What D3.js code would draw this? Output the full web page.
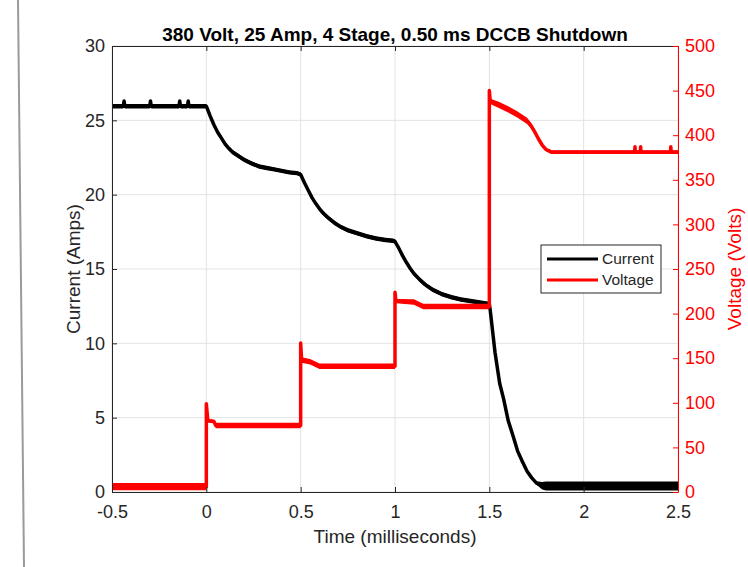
<!DOCTYPE html>
<html>
<head>
<meta charset="utf-8">
<script src="https://cdn.jsdelivr.net/npm/d3@7"></script>
<style>
  html, body { margin: 0; padding: 0; background: #fff; }
  svg { display: block; font-family: "Liberation Sans", Arial, Helvetica, sans-serif; }
</style>
</head>
<body>
<svg id="chart" width="748" height="567"></svg>
<script>
// Breaker shutdown trace: line current (left axis) and bus voltage (right axis)
const chartTitle = "380 Volt, 25 Amp, 4 Stage, 0.50 ms DCCB Shutdown";

const timeTicks = [-0.5, 0, 0.5, 1, 1.5, 2, 2.5];
const currentTicks = [0, 5, 10, 15, 20, 25, 30];
const voltageTicks = [0, 50, 100, 150, 200, 250, 300, 350, 400, 450, 500];

// Current samples: time (ms), mean current (A), measurement noise half-width (A)
const currentTime = [
  -0.5, -0.44, -0.436, -0.432, -0.3, -0.296, -0.292, -0.145, -0.141, -0.137, -0.1, -0.096, -0.092, 0.0,
  0.02, 0.04, 0.06, 0.08, 0.1, 0.12, 0.14, 0.17, 0.2, 0.24, 0.28, 0.32, 0.36, 0.4, 0.44, 0.48, 0.5,
  0.52, 0.54, 0.56, 0.58, 0.6, 0.62, 0.65, 0.68, 0.71, 0.75, 0.8, 0.85, 0.9, 0.95, 0.99, 1.0,
  1.02, 1.04, 1.06, 1.08, 1.1, 1.13, 1.16, 1.2, 1.25, 1.3, 1.35, 1.4, 1.45, 1.5,
  1.505, 1.53, 1.555, 1.575, 1.6, 1.625, 1.65, 1.675, 1.7, 1.725, 1.75, 1.78, 1.8, 2.5
];
const currentAmps = [
  25.95, 25.95, 26.3, 25.95, 25.95, 26.3, 25.95, 25.95, 26.3, 25.95, 25.95, 26.3, 25.95, 25.95,
  25.3, 24.7, 24.2, 23.8, 23.4, 23.1, 22.85, 22.6, 22.35, 22.1, 21.9, 21.8, 21.7, 21.6, 21.5, 21.45, 21.35,
  20.8, 20.3, 19.8, 19.4, 19.05, 18.75, 18.4, 18.1, 17.85, 17.6, 17.4, 17.2, 17.05, 16.95, 16.9, 16.85,
  16.4, 15.9, 15.45, 15.05, 14.7, 14.3, 13.95, 13.6, 13.3, 13.1, 12.95, 12.85, 12.75, 12.65,
  12.2, 9.4, 7.3, 6.3, 4.8, 3.8, 2.75, 2.05, 1.4, 0.95, 0.6, 0.42, 0.4, 0.4
];
const currentNoise = [
  0.15, 0.15, 0, 0.15, 0.15, 0, 0.15, 0.15, 0, 0.15, 0.15, 0, 0.15, 0.15,
  0.15, 0.15, 0.15, 0.15, 0.15, 0.15, 0.15, 0.15, 0.15, 0.15, 0.15, 0.15, 0.15, 0.15, 0.15, 0.15, 0.15,
  0.15, 0.15, 0.15, 0.15, 0.15, 0.15, 0.15, 0.15, 0.15, 0.15, 0.15, 0.15, 0.15, 0.15, 0.15, 0.15,
  0.15, 0.15, 0.15, 0.15, 0.15, 0.15, 0.15, 0.15, 0.15, 0.15, 0.15, 0.15, 0.15, 0.15,
  0.08, 0, 0, 0, 0, 0, 0, 0, 0.02, 0.05, 0.12, 0.25, 0.3, 0.3
];

// Voltage samples: time (ms), mean voltage (V), measurement noise half-width (V)
const voltageTime = [
  -0.5, 0.0, 0.0, 0.008, 0.04, 0.05, 0.5,
  0.5, 0.505, 0.55, 0.6, 1.0,
  1.0, 1.005, 1.1, 1.15, 1.5,
  1.5, 1.505, 1.55, 1.6, 1.65, 1.7, 1.72, 1.74, 1.76, 1.78, 1.8, 1.83,
  2.27, 2.272, 2.274, 2.3, 2.302, 2.304, 2.46, 2.462, 2.464, 2.5
];
const voltageVolts = [
  6, 6, 99, 80, 79, 74.5, 74.5,
  167, 148, 146, 141, 141,
  224, 214, 213, 208, 208,
  450, 438, 434, 429, 423, 416, 411, 404, 396, 389, 384, 381,
  381, 387, 381, 381, 387, 381, 381, 387, 381, 381
];
const voltageNoise = [
  4, 4, 0, 2, 2, 3, 3,
  0, 3, 3, 3, 3,
  0, 2.5, 3, 3, 3,
  0, 3, 3.5, 3.5, 3.5, 3.5, 3, 2, 1, 1, 2, 2,
  2, 0, 2, 2, 0, 2, 2, 0, 2, 2
];

const W = 748, H = 567;
const plot = { left: 112, right: 678, top: 46, bottom: 492 };
const ink = "#262626";
const red = "#ff0000";

const svg = d3.select("#chart");

const x = d3.scaleLinear().domain([-0.5, 2.5]).range([plot.left, plot.right]);
const yI = d3.scaleLinear().domain([0, 30]).range([plot.bottom, plot.top]);
const yV = d3.scaleLinear().domain([0, 500]).range([plot.bottom, plot.top]);

// Window frame edge at the left
svg.append("path")
  .attr("d", "M18,0 C19.5,250 21.5,420 24,567")
  .attr("fill", "none")
  .attr("stroke", "#9a9a9a")
  .attr("stroke-width", 2);

// Grid
const grid = svg.append("g").attr("stroke", "#e3e3e3").attr("stroke-width", 1);
grid.selectAll("line.gx").data(timeTicks).join("line")
  .attr("x1", d => x(d)).attr("x2", d => x(d))
  .attr("y1", plot.top).attr("y2", plot.bottom);
grid.selectAll("line.gy").data(currentTicks).join("line")
  .attr("x1", plot.left).attr("x2", plot.right)
  .attr("y1", d => yI(d)).attr("y2", d => yI(d));

// Traces: noise envelope plus the trace line
svg.append("clipPath").attr("id", "clip")
  .append("rect")
  .attr("x", plot.left).attr("y", plot.top - 4)
  .attr("width", plot.right - plot.left).attr("height", plot.bottom - plot.top + 4);

const traces = svg.append("g").attr("clip-path", "url(#clip)");

function drawTrace(t, v, n, y, color) {
  const idx = d3.range(t.length);
  const band = d3.area()
    .x(i => x(t[i]))
    .y0(i => y(v[i] - n[i]))
    .y1(i => y(v[i] + n[i]));
  const line = d3.line().x(i => x(t[i])).y(i => y(v[i]));
  traces.append("path").attr("d", band(idx))
    .attr("fill", color).attr("stroke", "none");
  traces.append("path").attr("d", line(idx))
    .attr("fill", "none").attr("stroke", color).attr("stroke-width", 3.5)
    .attr("stroke-linejoin", "round");
}
drawTrace(currentTime, currentAmps, currentNoise, yI, "#000");
drawTrace(voltageTime, voltageVolts, voltageNoise, yV, red);

// Axes
const fmt = d => String(d);
const tickFont = 18;

const axB = svg.append("g").attr("transform", `translate(0,${plot.bottom})`)
  .call(d3.axisBottom(x).tickValues(timeTicks).tickFormat(fmt).tickSizeInner(-5).tickSizeOuter(0).tickPadding(13));
const axT = svg.append("g").attr("transform", `translate(0,${plot.top})`)
  .call(d3.axisTop(x).tickValues(timeTicks).tickFormat("").tickSizeInner(-5).tickSizeOuter(0));
const axL = svg.append("g").attr("transform", `translate(${plot.left},0)`)
  .call(d3.axisLeft(yI).tickValues(currentTicks).tickFormat(fmt).tickSizeInner(-5).tickSizeOuter(0).tickPadding(7));
const axR = svg.append("g").attr("transform", `translate(${plot.right},0)`)
  .call(d3.axisRight(yV).tickValues(voltageTicks).tickFormat(fmt).tickSizeInner(-5).tickSizeOuter(0).tickPadding(7));

[axB, axT, axL].forEach(g => {
  g.select(".domain").attr("stroke", ink);
  g.selectAll(".tick line").attr("stroke", ink);
  g.selectAll(".tick text").attr("fill", ink).attr("font-size", tickFont).attr("font-family", null);
});
axR.select(".domain").attr("stroke", red);
axR.selectAll(".tick line").attr("stroke", red);
axR.selectAll(".tick text").attr("fill", red).attr("font-size", tickFont).attr("font-family", null);

// Title and axis labels
svg.append("text")
  .attr("x", (plot.left + plot.right) / 2).attr("y", 41)
  .attr("text-anchor", "middle")
  .attr("font-size", 19).attr("font-weight", "bold").attr("fill", "#000")
  .text(chartTitle);

svg.append("text")
  .attr("x", (plot.left + plot.right) / 2).attr("y", 543)
  .attr("text-anchor", "middle")
  .attr("font-size", 19).attr("fill", ink)
  .text("Time (milliseconds)");

svg.append("text")
  .attr("transform", `translate(80,${(plot.top + plot.bottom) / 2}) rotate(-90)`)
  .attr("text-anchor", "middle")
  .attr("font-size", 19).attr("fill", ink)
  .text("Current (Amps)");

svg.append("text")
  .attr("transform", `translate(741,${(plot.top + plot.bottom) / 2}) rotate(-90)`)
  .attr("text-anchor", "middle")
  .attr("font-size", 19).attr("fill", red)
  .text("Voltage (Volts)");

// Legend
const legend = svg.append("g").attr("transform", "translate(541,245)");
legend.append("rect")
  .attr("width", 120).attr("height", 48)
  .attr("fill", "#fff").attr("stroke", ink).attr("stroke-width", 1);
const legendItems = [
  { name: "Current", color: "#000" },
  { name: "Voltage", color: red }
];
legendItems.forEach((d, i) => {
  const cy = 14 + i * 21;
  legend.append("line")
    .attr("x1", 6).attr("x2", 57).attr("y1", cy).attr("y2", cy)
    .attr("stroke", d.color).attr("stroke-width", 3);
  legend.append("text")
    .attr("x", 61).attr("y", cy).attr("dy", "0.35em")
    .attr("font-size", 15.5).attr("fill", ink)
    .text(d.name);
});
</script>
</body>
</html>
